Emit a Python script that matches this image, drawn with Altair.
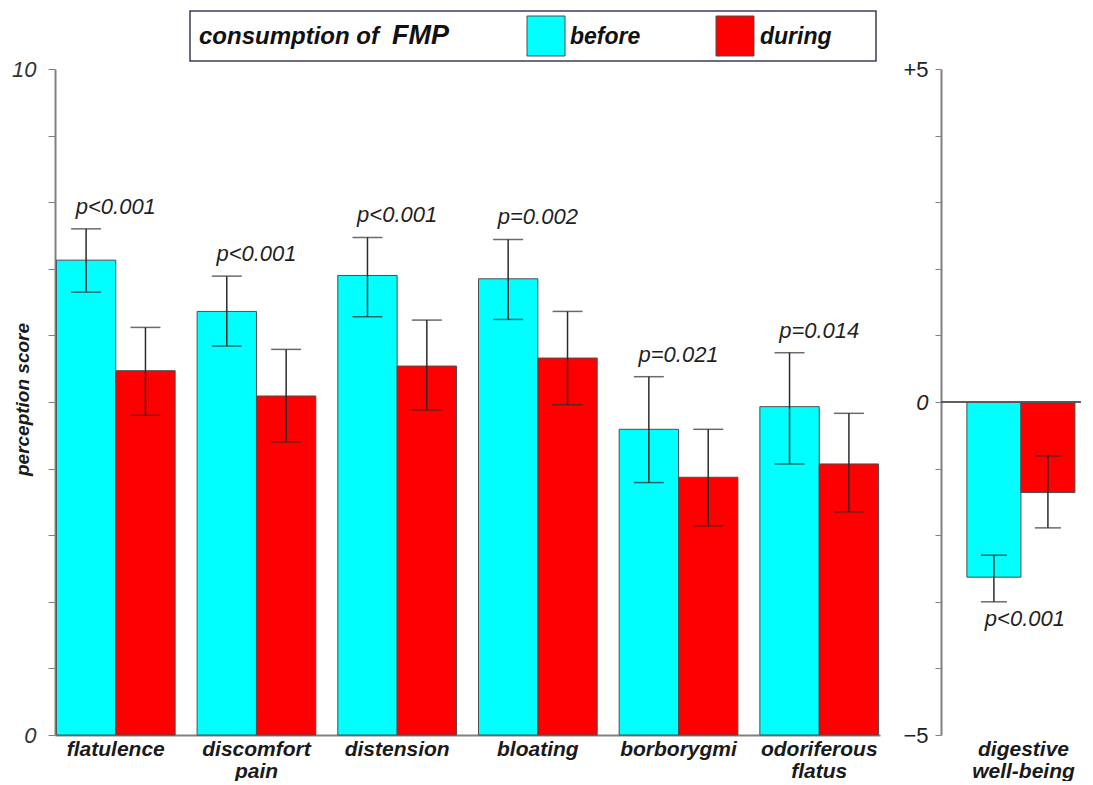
import altair as alt
import pandas as pd

FONT = "Liberation Sans"

# ---------------- data ----------------
categories = ["flatulence", "discomfort pain", "distension", "bloating", "borborygmi", "odoriferous flatus"]
series = ["before", "during"]
series_colors = ["#00FFFF", "#FF0000"]

before_mean = [7.13, 6.36, 6.90, 6.85, 4.59, 4.93]
before_hi = [7.60, 6.89, 7.47, 7.44, 5.38, 5.74]
before_lo = [6.65, 5.84, 6.28, 6.24, 3.79, 4.07]
during_mean = [5.47, 5.09, 5.54, 5.66, 3.87, 4.07]
during_hi = [6.12, 5.79, 6.23, 6.36, 4.59, 4.83]
during_lo = [4.80, 4.40, 4.88, 4.96, 3.14, 3.35]
p_values = ["p<0.001", "p<0.001", "p<0.001", "p=0.002", "p=0.021", "p=0.014"]

wb_title = ["digestive", "well-being"]
wb_mean = [-2.63, -1.36]     # before, during
wb_hi = [-2.30, -0.81]
wb_lo = [-3.00, -1.89]
wb_p_value = "p<0.001"

legend_title = ["consumption of", "FMP"]

# ---------------- tables ----------------
rows = []
for i, c in enumerate(categories):
    rows.append(dict(category=c, series="before", value=before_mean[i], lo=before_lo[i], hi=before_hi[i]))
    rows.append(dict(category=c, series="during", value=during_mean[i], lo=during_lo[i], hi=during_hi[i]))
df = pd.DataFrame(rows)
p_df = pd.DataFrame(dict(category=categories, hi=before_hi, p=p_values))

wdf = pd.DataFrame(dict(series=series, value=wb_mean, lo=wb_lo, hi=wb_hi))
wp_df = pd.DataFrame(dict(series=[series[0]], lo=[wb_lo[0]], p=[wb_p_value]))

one = pd.DataFrame({"k": [0]})

color = alt.Color("series:N", scale=alt.Scale(domain=series, range=series_colors), legend=None)
AX_GRAY = "#808080"
ERR = "#2b2b2b"

# ---------------- left panel ----------------
xL = alt.X("category:N", sort=categories,
           scale=alt.Scale(paddingInner=0.156, paddingOuter=0.01),
           axis=alt.Axis(title=None, labelAngle=0, labelExpr="split(datum.label, ' ')", ticks=False,
                         labelFont=FONT, labelFontSize=21, labelFontStyle="italic", labelFontWeight="bold",
                         labelColor="#1a1a1a", labelPadding=3, labelLineHeight=22, labelLimit=400,
                         domainColor=AX_GRAY, domainWidth=2))
xoL = alt.XOffset("series:N", sort=series, scale=alt.Scale(paddingInner=0, paddingOuter=0))
yscaleL = alt.Scale(domain=[0, 10], nice=False)
yaxisL = alt.Axis(values=list(range(11)),
                  labelExpr="datum.value == 0 || datum.value == 10 ? datum.label : ''",
                  title="perception score", titleFont=FONT, titleFontSize=19,
                  titleFontStyle="italic", titleFontWeight="bold", titleColor="#1a1a1a",
                  titleX=-23, titleY=330, grid=False, tickSize=7, tickColor=AX_GRAY,
                  domainColor=AX_GRAY, domainWidth=2, labelFont=FONT, labelFontSize=22,
                  labelFontStyle="italic", labelColor="#333333", labelPadding=12)

base = alt.Chart(df).encode(x=xL, xOffset=xoL)
barsL = base.mark_bar(stroke="#4d4d4d", strokeWidth=1).encode(
    y=alt.Y("value:Q", scale=yscaleL, axis=yaxisL), color=color)
ruleL = base.mark_rule(color=ERR, strokeWidth=1.5).encode(
    y=alt.Y("lo:Q", scale=yscaleL, axis=yaxisL), y2="hi:Q")
capLoL = base.mark_tick(color=ERR, thickness=1.5, size=30).encode(
    y=alt.Y("lo:Q", scale=yscaleL, axis=yaxisL))
capHiL = base.mark_tick(color=ERR, thickness=1.5, size=30).encode(
    y=alt.Y("hi:Q", scale=yscaleL, axis=yaxisL))
pL = alt.Chart(p_df).mark_text(baseline="alphabetic", dy=-15, font=FONT, fontSize=22,
                               fontStyle="italic", color="#1f1f1f").encode(
    x=alt.X("category:N", sort=categories), y=alt.Y("hi:Q", scale=yscaleL, axis=yaxisL), text="p:N")

# custom legend box (drawn above the plot)
legBox = alt.Chart(one).mark_rect(fill="white", stroke="#3c3c5a", strokeWidth=1.5).encode(
    x=alt.value(135), x2=alt.value(821), y=alt.value(-58), y2=alt.value(-8))
legSw1 = alt.Chart(one).mark_rect(fill=series_colors[0], stroke="#4d4d4d", strokeWidth=1).encode(
    x=alt.value(472), x2=alt.value(510), y=alt.value(-53), y2=alt.value(-13))
legSw2 = alt.Chart(one).mark_rect(fill=series_colors[1], stroke="#4d4d4d", strokeWidth=1).encode(
    x=alt.value(661), x2=alt.value(699), y=alt.value(-53), y2=alt.value(-13))
legT = [
    alt.Chart(one).mark_text(align="left", baseline="alphabetic", font=FONT, fontSize=fs,
                             fontStyle="italic", fontWeight="bold", color="#111111").encode(
        x=alt.value(xp), y=alt.value(-25), text=alt.value(t))
    for xp, t, fs in [(144, legend_title[0], 24), (337, legend_title[1], 27),
                      (515, series[0], 23), (705, series[1], 23)]
]

left = alt.layer(barsL, ruleL, capLoL, capHiL, pL, legBox, legSw1, legSw2, *legT).properties(
    width=825, height=666)

# ---------------- right panel ----------------
xR = alt.X("series:N", sort=series,
           scale=alt.Scale(paddingInner=0, paddingOuter=0.296, align=0.81),
           axis=alt.Axis(labels=False, ticks=False, domain=False, title=wb_title,
                         titleFont=FONT, titleFontSize=21, titleFontStyle="italic",
                         titleFontWeight="bold", titleColor="#1a1a1a", titlePadding=3,
                         titleLineHeight=22, titleX=82, titleBaseline="top"))
yscaleR = alt.Scale(domain=[-5, 5], nice=False)
yaxisR = alt.Axis(values=list(range(-5, 6)),
                  labelExpr="datum.value == 5 ? '+5' : datum.value == 0 ? '0' : datum.value == -5 ? '\u22125' : ''",
                  title=None, grid=False, tickSize=6, tickColor=AX_GRAY,
                  domainColor=AX_GRAY, domainWidth=2, labelFont=FONT, labelFontSize=22,
                  labelFontStyle={"condition": {"test": "datum.value == 0", "value": "italic"}, "value": "normal"},
                  labelColor="#222222", labelPadding=7)

baseR = alt.Chart(wdf).encode(x=xR)
zeroR = alt.Chart(wdf).mark_rule(color="#555555", strokeWidth=1.5).encode(
    y=alt.datum(0, scale=yscaleR, axis=yaxisR))
barsR = baseR.mark_bar(stroke="#4d4d4d", strokeWidth=1).encode(
    y=alt.Y("value:Q", scale=yscaleR, axis=yaxisR), color=color)
ruleR = baseR.mark_rule(color=ERR, strokeWidth=1.5).encode(
    y=alt.Y("lo:Q", scale=yscaleR, axis=yaxisR), y2="hi:Q")
capLoR = baseR.mark_tick(color=ERR, thickness=1.5, size=26).encode(
    y=alt.Y("lo:Q", scale=yscaleR, axis=yaxisR))
capHiR = baseR.mark_tick(color=ERR, thickness=1.5, size=26).encode(
    y=alt.Y("hi:Q", scale=yscaleR, axis=yaxisR))
pR = alt.Chart(wp_df).mark_text(baseline="alphabetic", dy=24, dx=4, font=FONT, fontSize=22,
                                fontStyle="italic", color="#1f1f1f").encode(
    x=alt.X("series:N", sort=series, bandPosition=1),
    y=alt.Y("lo:Q", scale=yscaleR, axis=yaxisR), text="p:N")

right = alt.layer(barsR, zeroR, ruleR, capLoR, capHiR, pR).properties(width=140, height=666)

chart = alt.hconcat(left, right, spacing=22).properties(
    padding={"left": 3, "top": 2, "right": 0, "bottom": 0}
).configure(font=FONT, background="white").configure_view(stroke=None)

chart.save("out.html", embed_options={"renderer": "svg", "actions": False})
